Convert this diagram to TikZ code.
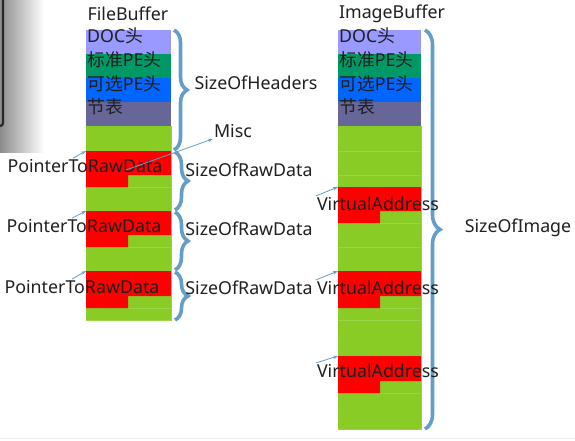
\documentclass[tikz,border=0pt]{standalone}
\usepackage{fontspec}
\setmainfont{Noto Sans}
\newfontfamily\cjk{Noto Sans CJK SC}
\usetikzlibrary{decorations.pathreplacing,arrows.meta}

\definecolor{docc}{RGB}{153,153,255}
\definecolor{ntc}{RGB}{0,153,102}
\definecolor{optc}{RGB}{0,102,255}
\definecolor{secc}{RGB}{102,102,153}
\definecolor{grnc}{RGB}{137,204,38}
\definecolor{redc}{RGB}{255,0,0}
\definecolor{bracec}{RGB}{100,158,200}

\begin{document}
\begin{tikzpicture}[%
      x=1pt, y=-1pt,
      lbl/.style={inner sep=1pt, text=black!88,
        font=\fontsize{17.8}{19}\selectfont},
      ptr/.style={draw=bracec, line width=0.8pt,
        -{Stealth[length=5pt,width=3.5pt]}},
      brc/.style={draw=bracec, line width=3.6pt, decorate,
        decoration={brace, amplitude=13pt}},
      sep/.style={draw=grnc!85!white, line width=0.4pt},
      ]
      \useasboundingbox (0,0) rectangle (575,440);

      % window edge left over from the screenshot
      \shade [left color=black!45, right color=white] (0,0) rectangle (44,152);
      \draw [black!85, line width=2.2pt, rounded corners=3pt] (3,-3) -- (3,126) -- (-3,126);
      \draw [black!6, line width=1pt] (0,438.5) -- (575,438.5);

      % FileBuffer
      \fill [docc] (86,30) rectangle (171,54);
      \fill [ntc] (86,54) rectangle (171,78);
      \fill [optc] (86,78) rectangle (171,102);
      \fill [secc] (86,102) rectangle (171,126);
      \fill [grnc] (86,126) rectangle (171,320);
      \fill [redc] (86,151) rectangle (171,175) (86,175) rectangle (128,187);
      \fill [redc] (86,211) rectangle (171,235) (86,235) rectangle (128,247);
      \fill [redc] (86,271) rectangle (171,296) (86,296) rectangle (128,308);
      \draw [sep] (128,187) -- (171,187) (128,247) -- (171,247) (128,308) -- (171,308);
      \draw [sep] (171,126) -- (171,320) -- (86,320);

      % ImageBuffer
      \fill [docc] (338,30) rectangle (421,54);
      \fill [ntc] (338,54) rectangle (421,78);
      \fill [optc] (338,78) rectangle (421,102);
      \fill [secc] (338,102) rectangle (421,126);
      \fill [grnc] (338,126) rectangle (421,429);
      \fill [redc] (338,187) rectangle (421,211) (338,211) rectangle (380,223);
      \fill [redc] (338,271) rectangle (421,296) (338,296) rectangle (380,308);
      \fill [redc] (338,356) rectangle (421,381) (338,381) rectangle (380,393);
      \draw [sep] (338,151) -- (421,151) (338,175) -- (421,175);
      \draw [sep] (338,247) -- (421,247) (338,320) -- (421,320);
      \draw [sep] (380,223) -- (421,223) (380,308) -- (421,308) (380,393) -- (421,393);
      \draw [sep] (421,126) -- (421,429) -- (338,429);

      \coordinate (fr1) at (86,151);
      \coordinate (fr2) at (86,211);
      \coordinate (fr3) at (86,271);
      \coordinate (fmisc) at (126,170);
      \coordinate (ir1) at (338,187);
      \coordinate (ir2) at (338,271);
      \coordinate (ir3) at (338,356);

      \draw [brc] (174,30) -- (174,150);
      \draw [brc] (175,152) -- (175,210);
      \draw [brc] (175,212) -- (175,270);
      \draw [brc] (175,272) -- (175,320);
      \draw [brc, decoration={amplitude=15pt}] (425,30) -- (425,429);

      \node [lbl] (fbuf) at (128,14) {FileBuffer};
      \node [lbl, anchor=west] (fdoc) at (86,36) {DOC{\cjk 头}};
      \node [lbl, anchor=west] (fnt) at (86,60) {{\cjk 标准}PE{\cjk 头}};
      \node [lbl, anchor=west] (fopt) at (86,84) {{\cjk 可选}PE{\cjk 头}};
      \node [lbl, anchor=west] (fsec) at (86,107) {\cjk 节表};

      \node [lbl] (ibuf) at (392,14) {ImageBuffer};
      \node [lbl, anchor=west] (idoc) at (338,36) {DOC{\cjk 头}};
      \node [lbl, anchor=west] (int) at (338,60) {{\cjk 标准}PE{\cjk 头}};
      \node [lbl, anchor=west] (iopt) at (338,84) {{\cjk 可选}PE{\cjk 头}};
      \node [lbl, anchor=west] (isec) at (338,107) {\cjk 节表};

      \node [lbl] (fp1) at (85,166) {PointerToRawData};
      \node [lbl] (fp2) at (84,226) {PointerToRawData};
      \node [lbl] (fp3) at (82,287) {PointerToRawData};
      \node [lbl] (misc) at (233,131) {Misc};

      \node [lbl] (va1) at (378,204) {VirtualAddress};
      \node [lbl] (va2) at (378,288) {VirtualAddress};
      \node [lbl] (va3) at (378,371) {VirtualAddress};

      \node [lbl] (hdr) at (256,83) {SizeOfHeaders};
      \node [lbl] (raw1) at (249,170) {SizeOfRawData};
      \node [lbl] (raw2) at (249,229) {SizeOfRawData};
      \node [lbl] (raw3) at (249,288) {SizeOfRawData};
      \node [lbl] (img) at (518,228) {SizeOfImage};

      \draw [ptr] ([xshift=-12pt]fp1.north) -- (fr1);
      \draw [ptr] ([xshift=-12pt]fp2.north) -- (fr2);
      \draw [ptr] ([xshift=-10pt]fp3.north) -- (fr3);
      \draw [ptr] (fmisc) -- (misc.south west);
      \draw [ptr] (va1.north west) -- (ir1);
      \draw [ptr] (va2.north west) -- (ir2);
      \draw [ptr] (va3.north west) -- (ir3);
\end{tikzpicture}
\end{document}
